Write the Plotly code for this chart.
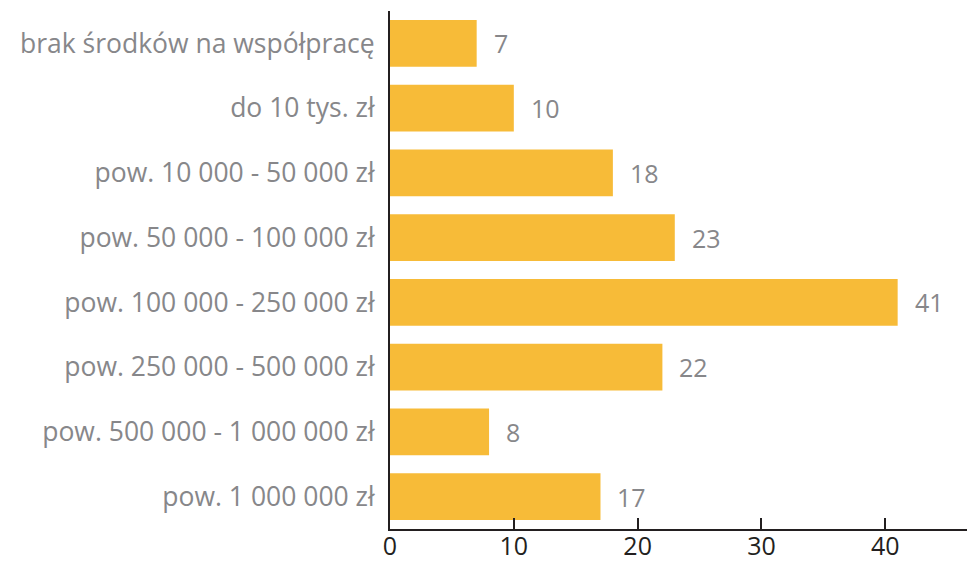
import plotly.graph_objects as go

categories = [
    "brak środków na współpracę",
    "do 10 tys. zł",
    "pow. 10 000 - 50 000 zł",
    "pow. 50 000 - 100 000 zł",
    "pow. 100 000 - 250 000 zł",
    "pow. 250 000 - 500 000 zł",
    "pow. 500 000 - 1 000 000 zł",
    "pow. 1 000 000 zł",
]
values = [7, 10, 18, 23, 41, 22, 8, 17]
x_ticks = [0, 10, 20, 30, 40]

BAR = "#F7BB38"
GREY = "#87878A"
DARK = "#231F20"
FONT = "Open Sans"

fig = go.Figure()
fig.add_trace(go.Bar(
    y=categories, x=values, orientation="h",
    marker=dict(color=BAR, line=dict(width=0)),
    width=0.72,
    hoverinfo="skip",
))

for c, v in zip(categories, values):
    fig.add_annotation(
        x=v, y=c, text=str(v), showarrow=False,
        xanchor="left", yanchor="middle", xshift=15,
        font=dict(family=FONT, size=25, color=GREY),
    )

fig.update_layout(
    width=967, height=561,
    margin=dict(l=390, r=0, t=11, b=32, autoexpand=False),
    paper_bgcolor="white", plot_bgcolor="white",
    showlegend=False,
    bargap=0.28,
)
fig.update_yaxes(
    categoryorder="array", categoryarray=categories, autorange="reversed",
    showline=True, linecolor=DARK, linewidth=2,
    ticks="", showgrid=False, zeroline=False,
    tickfont=dict(family=FONT, size=26.5, color=GREY),
    ticklabelstandoff=8, automargin=False,
)
fig.update_xaxes(
    range=[0, 46.6], tickvals=x_ticks, ticktext=[str(t) for t in x_ticks],
    showline=True, linecolor=DARK, linewidth=2,
    ticks="inside", ticklen=11, tickwidth=2, tickcolor=DARK,
    showgrid=False, zeroline=False,
    tickfont=dict(family=FONT, size=25, color=DARK),
    ticklabelstandoff=-6, automargin=False,
)

fig.write_html(
    "out.html",
    config={"displayModeBar": False},
    post_script="document.body.style.margin='0';document.body.style.overflow='hidden';",
)
